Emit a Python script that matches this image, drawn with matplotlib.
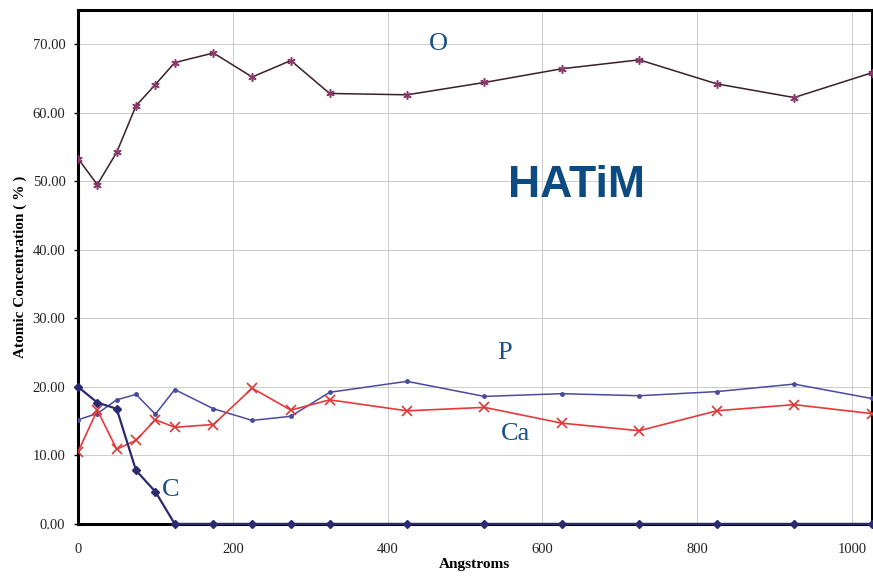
import numpy as np
import matplotlib
matplotlib.use("Agg")
import matplotlib.pyplot as plt
from matplotlib.ticker import FormatStrFormatter

# 深度 (Angstroms)
depth = [0, 25, 50, 75, 100, 125, 175, 225, 275, 325, 425, 525, 625, 725, 825, 925, 1025]

# 各元素原子浓度 (%)
O_vals = [53.3, 49.5, 54.2, 61.0, 64.1, 67.3, 68.7, 65.2, 67.6, 62.8, 62.6, 64.4, 66.4, 67.7, 64.2, 62.2, 65.8]
P_vals = [15.2, 16.1, 18.1, 18.9, 16.0, 19.6, 16.8, 15.1, 15.7, 19.2, 20.8, 18.6, 19.0, 18.7, 19.3, 20.4, 18.3]
Ca_vals = [10.5, 16.6, 10.9, 12.2, 15.2, 14.1, 14.5, 19.8, 16.6, 18.1, 16.5, 17.0, 14.7, 13.6, 16.5, 17.4, 16.1]
C_vals = [20.0, 17.7, 16.8, 7.8, 4.7, 0.0, 0.0, 0.0, 0.0, 0.0, 0.0, 0.0, 0.0, 0.0, 0.0, 0.0, 0.0]

serif = ['Liberation Serif', 'DejaVu Serif']
label_color = '#1b4f86'

fig = plt.figure(figsize=(8.73, 5.77), dpi=100)
ax = fig.add_axes([0.0893, 0.092, 0.909, 0.891])

# 网格线
ax.grid(True, color='#cccccc', linewidth=0.7)
ax.set_axisbelow(True)

# 曲线
ax.plot(depth, O_vals, color='#3a1f2a', linewidth=1.1, marker=(6, 2, 0), markersize=6,
        markeredgecolor='#8a3a6a', markeredgewidth=1.1, zorder=3)
ax.plot(depth, P_vals, color='#4a4aa0', linewidth=1.1, marker='o', markersize=2.5,
        markerfacecolor='#4a4aa0', markeredgecolor='#4a4aa0', zorder=3)
ax.plot(depth, Ca_vals, color='#e8383a', linewidth=1.2, marker='x', markersize=7,
        markeredgecolor='#d83a3a', markeredgewidth=1.2, zorder=4)
ax.plot(depth, C_vals, color='#2a2a70', linewidth=1.6, marker='D', markersize=4.5,
        markerfacecolor='#2a2a70', markeredgecolor='#2a2a70', zorder=5, clip_on=False)

# 坐标范围与刻度
ax.set_xlim(0, 1025)
ax.set_ylim(0, 75)
ax.set_xticks([0, 200, 400, 600, 800, 1000])
ax.set_yticks([0, 10, 20, 30, 40, 50, 60, 70])
ax.yaxis.set_major_formatter(FormatStrFormatter('%.2f'))
ax.tick_params(axis='both', which='both', direction='out', length=3, width=1, colors='black',
               labelsize=10.5)
ax.tick_params(axis='y', pad=6)
ax.tick_params(axis='x', length=0, pad=14)
for lab in ax.get_xticklabels() + ax.get_yticklabels():
    lab.set_fontfamily(serif)
    lab.set_color('#222222')

# 坐标轴边框
for s in ['top', 'right', 'left', 'bottom']:
    ax.spines[s].set_color('black')
    ax.spines[s].set_linewidth(2.2)

ax.set_xlabel('Angstroms', fontfamily=serif, fontweight='bold', fontsize=11, labelpad=1)
ax.set_ylabel('Atomic Concentration ( % )', fontfamily=serif, fontweight='bold', fontsize=11,
              labelpad=4)

# 元素标注
ax.text(466, 70, 'O', fontfamily=serif, fontsize=19, color=label_color, ha='center', va='center')
ax.text(551, 25, 'P', fontfamily=serif, fontsize=19, color=label_color, ha='center', va='center')
ax.text(565, 13.1, 'Ca', fontfamily=serif, fontsize=19, color=label_color, ha='center', va='center')
ax.text(120, 5, 'C', fontfamily=serif, fontsize=19, color=label_color, ha='center', va='center')
ax.text(644, 49.3, 'HATiM', fontfamily=['Liberation Sans', 'DejaVu Sans'], fontweight='bold',
        fontsize=32, color='#0c4a82', ha='center', va='center')

plt.savefig('out.png', dpi=100)
